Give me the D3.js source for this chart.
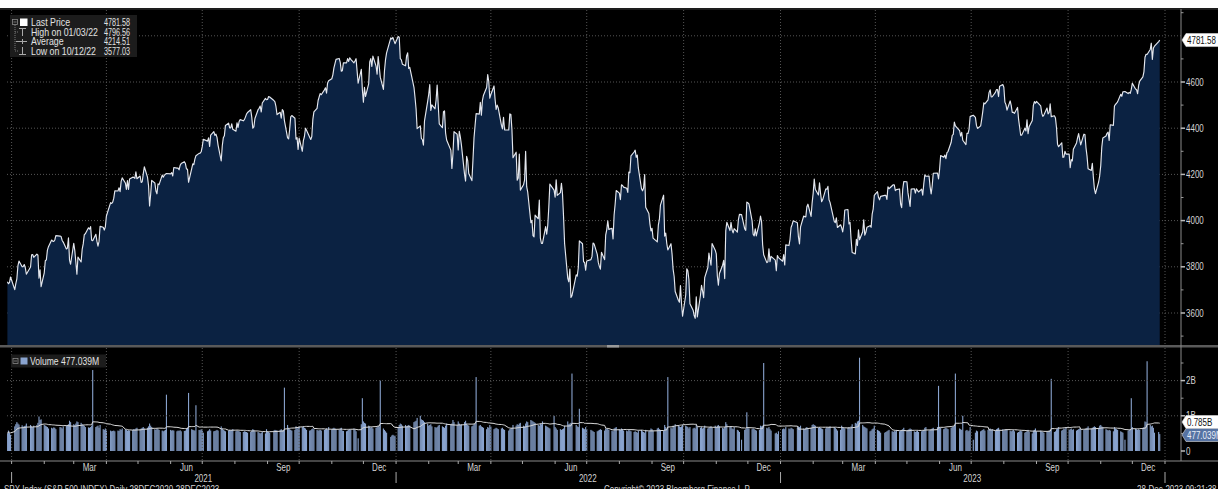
<!DOCTYPE html>
<html><head><meta charset="utf-8">
<script src="https://cdn.jsdelivr.net/npm/d3@7"></script>
<style>
html,body{margin:0;padding:0;background:#000;overflow:hidden;}
svg{display:block;}
text{font-family:"Liberation Sans",Arial,sans-serif;}
</style></head><body>
<svg id="c" width="1218" height="489"></svg>
<script>
// ---------------- DATA ----------------
// NYSE holidays inside the range (non-trading weekdays)
const holidays = ["2021-01-01","2021-01-18","2021-02-15","2021-04-02","2021-05-31","2021-07-05","2021-09-06","2021-11-25","2021-12-24",
"2022-01-17","2022-02-21","2022-04-15","2022-05-30","2022-06-20","2022-07-04","2022-09-05","2022-11-24","2022-12-26",
"2023-01-02","2023-01-16","2023-02-20","2023-04-07","2023-05-29","2023-06-19","2023-07-04","2023-09-04","2023-11-23","2023-12-25"];
const firstDay = "2020-12-28", lastDay = "2023-12-27";

// SPX daily close, one value per trading day
const priceClose = [
3735,3727,3732,3756,
3701,3727,3748,3804,3825,3800,3801,3810,3796,3768,3799,3852,3853,3841,3855,3850,3751,3787,3714,
3774,3826,3830,3872,3887,3916,3911,3910,3916,3935,3933,3931,3914,3907,3877,3881,3925,3829,3811,
3902,3870,3820,3768,3842,3821,3875,3899,3939,3943,3969,3963,3974,3915,3913,3941,3911,3889,3910,3975,3971,3959,3973,
4020,4078,4074,4080,4097,4129,4128,4142,4125,4170,4185,4163,4135,4173,4135,4180,4188,4187,4183,4211,4181,
4193,4165,4168,4202,4233,4188,4152,4063,4113,4174,4163,4128,4116,4159,4156,4197,4188,4196,4201,4204,
4202,4208,4193,4230,4227,4227,4220,4239,4247,4255,4247,4224,4222,4166,4225,4246,4242,4266,4281,4291,4292,4298,
4320,4352,4344,4358,4321,4370,4385,4369,4374,4360,4327,4258,4323,4359,4367,4412,4422,4401,4401,4419,4395,
4387,4423,4403,4429,4437,4432,4437,4448,4461,4468,4480,4448,4400,4406,4442,4480,4486,4496,4470,4509,4529,4523,
4524,4537,4535,4520,4514,4493,4459,4469,4443,4481,4474,4433,4358,4354,4396,4449,4455,4443,4353,4359,4308,
4357,4300,4346,4364,4400,4391,4361,4351,4364,4438,4471,4486,4520,4536,4550,4545,4566,4575,4552,4596,4605,
4614,4631,4661,4680,4698,4702,4685,4647,4649,4683,4683,4701,4689,4705,4698,4683,4691,4701,4595,4655,4567,
4513,4577,4538,4592,4687,4701,4667,4712,4669,4634,4710,4669,4621,4568,4649,4697,4726,4791,4786,4793,4779,4766,
4797,4794,4701,4696,4677,4670,4713,4726,4659,4663,4577,4533,4483,4398,4410,4356,4350,4327,4432,4516,
4547,4589,4477,4501,4484,4522,4587,4504,4419,4402,4471,4475,4380,4349,4305,4226,4289,4385,4374,
4306,4387,4363,4329,4201,4171,4278,4260,4204,4173,4262,4358,4412,4463,4461,4512,4456,4520,4543,4576,4632,4602,4530,
4546,4583,4525,4481,4500,4488,4413,4397,4447,4393,4392,4462,4459,4394,4272,4296,4175,4184,4288,4132,
4155,4175,4300,4147,4123,3991,4001,3935,3930,4024,4008,4089,3924,3901,3901,3974,3941,3979,4058,4158,4132,
4101,4177,4109,4121,4161,4116,4018,3901,3750,3735,3790,3667,3675,3765,3760,3796,3912,3900,3822,3819,3785,
3825,3831,3845,3903,3899,3854,3819,3802,3790,3863,3831,3937,3960,3999,3962,3967,3921,4024,4072,4130,
4119,4091,4155,4152,4145,4140,4122,4210,4207,4280,4297,4305,4274,4284,4228,4138,4129,4141,4199,4058,4031,3986,3955,
3967,3924,3908,3980,4006,4067,4110,3933,3946,3901,3873,3900,3856,3790,3758,3693,3655,3647,3719,3640,3586,
3678,3791,3783,3745,3640,3612,3589,3577,3670,3583,3678,3720,3695,3666,3753,3797,3859,3831,3807,3901,3872,
3856,3760,3720,3771,3807,3828,3749,3956,3993,3957,3992,3959,3947,3965,3950,4004,4027,4026,3964,3958,4080,
4077,4072,3999,3941,3934,3964,3934,3991,4020,3995,3896,3852,3818,3822,3878,3822,3845,3829,3783,3849,3840,
3824,3853,3808,3895,3892,3919,3970,3983,3999,3991,3929,3899,3973,4020,4017,4016,4060,4071,4018,4077,
4119,4180,4136,4111,4164,4118,4082,4090,4137,4136,4148,4090,4079,3997,3991,4012,3970,3982,3970,
3951,3981,4046,4048,3986,3992,3918,3862,3856,3919,3892,3960,3917,3952,4003,3937,3949,3971,3978,3971,4028,4051,4109,
4125,4101,4090,4105,4109,4109,4092,4146,4138,4151,4155,4155,4130,4134,4137,4072,4056,4135,4169,
4168,4120,4091,4061,4136,4138,4119,4138,4131,4124,4136,4110,4159,4198,4192,4193,4146,4115,4151,4205,4206,4180,
4221,4282,4274,4284,4268,4294,4299,4339,4369,4373,4426,4410,4389,4366,4382,4348,4329,4378,4377,4396,4450,
4456,4447,4412,4399,4410,4439,4472,4510,4505,4523,4555,4566,4535,4536,4555,4567,4567,4537,4582,4589,
4577,4513,4502,4478,4518,4499,4468,4469,4464,4490,4438,4404,4370,4370,4400,4388,4436,4376,4406,4433,4498,4515,4508,
4516,4497,4465,4451,4457,4487,4462,4467,4505,4450,4454,4444,4402,4330,4320,4337,4274,4275,4300,4288,
4288,4229,4264,4258,4309,4336,4358,4377,4350,4328,4374,4373,4315,4278,4224,4217,4248,4187,4137,4117,4167,4194,
4238,4318,4358,4366,4378,4383,4347,4415,4412,4496,4503,4508,4514,4547,4538,4557,4559,4550,4555,4551,4568,
4595,4570,4567,4549,4586,4604,4622,4644,4707,4720,4719,4741,4768,4698,4747,4755,4775,4781.58
];

// Daily volume, in hundredths of a billion shares (62 = 0.62B)
const volumeCentiB = [
50,58,52,46,
70,76,82,78,75,73,69,71,72,78,74,70,68,72,74,80,98,88,90,
74,72,70,68,64,66,64,67,66,62,68,67,64,70,72,74,76,86,82,
76,74,78,84,82,80,76,74,72,68,67,66,68,72,230,68,70,72,66,74,62,60,64,
58,58,56,57,58,56,58,57,62,60,64,62,60,58,59,58,60,62,61,64,66,
62,64,66,68,64,66,70,78,72,68,62,60,64,62,60,58,56,58,60,160,
60,58,59,58,56,58,57,59,56,57,58,64,66,165,62,60,59,58,130,60,59,62,
58,52,56,58,62,58,56,57,58,60,58,70,64,60,58,56,58,60,59,60,62,
56,58,57,56,54,54,56,55,54,52,54,58,62,60,56,54,52,50,52,54,50,62,
56,54,52,58,60,59,58,60,62,59,58,180,74,66,62,60,58,60,70,64,68,
70,68,70,66,64,60,58,59,62,64,62,60,58,59,60,58,60,62,64,61,68,
62,64,66,64,62,60,64,66,58,57,56,58,60,62,61,64,60,56,36,76,150,
84,80,78,72,70,66,68,64,66,68,72,70,200,64,60,56,52,40,44,46,44,42,
68,74,78,76,72,74,70,72,74,72,82,84,86,94,100,90,88,86,82,78,
72,74,76,70,68,66,68,72,74,70,68,66,72,78,76,78,88,82,74,
84,78,74,76,82,86,78,74,72,70,72,76,78,210,72,74,70,68,66,62,68,66,74,
68,62,64,66,64,62,64,66,62,60,58,62,64,66,74,72,76,74,78,80,
72,70,78,84,82,88,86,84,82,80,74,72,78,76,84,72,70,68,66,64,100,
68,64,60,62,60,62,64,72,84,76,78,80,220,74,70,68,120,66,64,62,68,
62,60,58,56,54,56,58,60,62,60,58,64,62,64,60,58,56,64,66,68,
62,60,64,62,58,58,56,60,58,56,54,56,54,52,58,60,56,54,52,60,56,58,64,
62,58,64,66,62,60,58,74,68,64,210,66,64,72,70,76,74,70,68,70,74,
72,70,68,64,68,64,66,64,74,68,66,68,64,66,72,64,66,68,70,66,72,
68,72,74,70,66,64,68,82,76,68,70,64,62,68,60,58,54,32,60,62,110,
68,64,62,64,62,60,58,60,72,70,72,250,66,64,68,62,58,50,52,48,56,
62,64,62,68,64,62,66,64,62,66,70,68,72,64,62,66,68,64,66,74,
76,74,72,66,68,66,64,62,64,68,66,68,70,68,66,62,58,60,72,
68,66,64,66,68,64,70,76,80,78,84,86,265,74,70,68,66,64,56,58,62,64,72,
60,58,56,52,52,54,56,58,60,56,54,58,56,60,56,58,60,62,66,
58,60,62,64,62,56,54,56,58,54,56,58,60,66,68,58,60,62,64,66,68,185,
68,66,62,64,66,64,62,66,68,70,72,220,64,62,60,100,58,60,56,58,68,
32,52,58,56,56,58,60,62,58,60,62,64,60,62,58,62,64,66,60,62,
58,60,62,60,58,56,58,60,56,52,54,56,58,56,52,54,56,60,54,50,58,60,64,
56,58,56,54,52,54,56,58,60,205,54,56,62,64,68,58,60,64,62,68,
60,62,64,60,62,58,60,62,64,62,60,62,64,66,70,64,66,68,70,68,66,72,
74,70,68,62,60,58,60,58,56,68,64,62,60,56,54,52,32,58,60,62,150,
68,64,62,60,62,60,66,68,84,82,255,74,70,72,66,52,54,48
];

const priceMajorTicks = [3600, 3800, 4000, 4200, 4400, 4600];
const priceMinorTicks = [3500, 3700, 3900, 4100, 4300, 4500, 4700, 4900];
const priceGrid = [3600, 3800, 4000, 4200, 4400, 4600, 4800];
const volumeMajorTicks = [0, 1, 2];
const volumeTickLabels = ["0", "1B", "2B"];
const volumeMinorTicks = [0.5, 1.5, 2.5];
const monthLabelNames = ["Mar", "Jun", "Sep", "Dec"];
const yearLabels = ["2021", "2022", "2023"];
const legendLabels = ["Last Price", "High on 01/03/22", "Average", "Low on 10/12/22"];
const legendValues = ["4781.58", "4796.56", "4214.51", "3577.03"];
const lastPriceLabel = "4781.58";
const volumeMaLabel = "0.785B";
const volumeLastLabel = "477.039M";
const volumeLegend = "Volume 477.039M";
const footerLeft = "SPX Index (S&P 500 INDEX)  Daily 28DEC2020-28DEC2023";
const footerMid = "Copyright\u00A9 2023 Bloomberg Finance L.P.";
const footerRight = "28-Dec-2023 09:21:38";

// ---------------- BUILD ----------------
const fmt = d3.timeFormat("%Y-%m-%d");
const parse = d3.timeParse("%Y-%m-%d");
const hol = new Set(holidays);
const dates = [];
for (let d = parse(firstDay); d <= parse(lastDay); d = d3.timeDay.offset(d, 1)) {
  const wd = d.getDay();
  if (wd === 0 || wd === 6 || hol.has(fmt(d))) continue;
  dates.push(d);
}
const prices = d3.range(Math.min(dates.length, priceClose.length)).map(i => ({date: dates[i], v: priceClose[i]}));
const vols = d3.range(Math.min(dates.length, volumeCentiB.length)).map(i => ({date: dates[i], v: volumeCentiB[i] / 100}));
const MA = 20;
const volMa = vols.map((d, i) => ({date: d.date, v: d3.mean(vols.slice(Math.max(0, i - MA + 1), i + 1), e => e.v)}));

const W = 1218, H = 489;
const svg = d3.select("#c");
const plotL = 7, plotR = 1165, axisX = 1181;
const mainTop = 10, mainBot = 345, volTop = 348, volBot = 461;

const x = d3.scaleTime().domain([new Date(2021, 0, 1), new Date(2024, 0, 1)]).range([11.6, 1165]);
const y = d3.scaleLinear().domain([3600, 4600]).range([313, 82]);
const yv = d3.scaleLinear().domain([0, 2]).range([451, 380.6]);

// condensed text helper
function T(g, px, py, str, o = {}) {
  const s = o.sx || 0.8;
  return g.append("text")
    .attr("transform", `translate(${px},${py}) scale(${s},1)`)
    .attr("dy", o.dy == null ? "0.35em" : o.dy)
    .attr("text-anchor", o.anchor || "start")
    .attr("font-size", o.size || 10)
    .attr("fill", o.fill || "#d4d4d4")
    .text(str);
}

// backgrounds
svg.append("rect").attr("x", 0).attr("y", 0).attr("width", W).attr("height", H).attr("fill", "#000");
svg.append("rect").attr("x", 0).attr("y", 0).attr("width", W).attr("height", 8).attr("fill", "#fff");
svg.append("line").attr("x1", 0).attr("x2", W).attr("y1", 9).attr("y2", 9).attr("stroke", "#3a3a3a");

const defs = svg.append("defs");
defs.append("clipPath").attr("id", "cm").append("rect").attr("x", plotL).attr("y", mainTop).attr("width", plotR - plotL).attr("height", mainBot - mainTop);
defs.append("clipPath").attr("id", "cv").append("rect").attr("x", plotL).attr("y", volTop).attr("width", plotR - plotL).attr("height", volBot - volTop - 1);

const quarters = d3.timeMonth.every(3).range(new Date(2021, 0, 1), new Date(2024, 0, 2));

// price area
const gm = svg.append("g").attr("clip-path", "url(#cm)");
gm.append("path").datum(prices)
  .attr("d", d3.area().x(d => x(d.date)).y0(mainBot).y1(d => y(d.v)))
  .attr("fill", "#0b2242");

// gridlines (over the fill)
const grid = svg.append("g").attr("stroke", "#555").attr("stroke-dasharray", "1 2").attr("stroke-width", 1);
quarters.forEach(q => {
  grid.append("line").attr("x1", x(q)).attr("x2", x(q)).attr("y1", mainTop).attr("y2", mainBot);
});
priceGrid.forEach(t => grid.append("line").attr("x1", plotL).attr("x2", axisX).attr("y1", y(t)).attr("y2", y(t)));

// price line
gm.append("path").datum(prices)
  .attr("d", d3.line().x(d => x(d.date)).y(d => y(d.v)))
  .attr("fill", "none").attr("stroke", "#e4e7ee").attr("stroke-width", 1.15).attr("stroke-linejoin", "round");
gm.raise();

// volume bars
const gv = svg.append("g").attr("clip-path", "url(#cv)");
gv.selectAll("rect").data(vols).join("rect")
  .attr("x", d => x(d.date) - 0.55).attr("width", 1.1)
  .attr("y", d => yv(d.v)).attr("height", d => yv(0) - yv(d.v))
  .attr("fill", "#89a3ce");
const gridV = svg.append("g").attr("stroke", "#555").attr("stroke-dasharray", "1 2").attr("stroke-width", 1);
quarters.forEach(q => gridV.append("line").attr("x1", x(q)).attr("x2", x(q)).attr("y1", volTop).attr("y2", volBot));
[1, 2].forEach(t => gridV.append("line").attr("x1", plotL).attr("x2", axisX).attr("y1", yv(t)).attr("y2", yv(t)));
svg.append("path").datum(volMa).attr("clip-path", "url(#cv)")
  .attr("d", d3.line().x(d => x(d.date)).y(d => yv(d.v)))
  .attr("fill", "none").attr("stroke", "#dcdcdc").attr("stroke-width", 1);

// panel separator and axes
svg.append("rect").attr("x", 0).attr("y", 345).attr("width", W).attr("height", 2.5).attr("fill", "#5a5a5a");
svg.append("rect").attr("x", 607).attr("y", 345).attr("width", 12).attr("height", 2.5).attr("fill", "#9a9a9a");
svg.append("line").attr("x1", axisX).attr("x2", axisX).attr("y1", 9).attr("y2", volBot).attr("stroke", "#8a8a8a");
svg.append("line").attr("x1", 0).attr("x2", W).attr("y1", volBot).attr("y2", volBot).attr("stroke", "#8a8a8a").attr("stroke-width", 1.2);

const ax = svg.append("g");
priceMajorTicks.forEach(t => {
  ax.append("line").attr("x1", axisX).attr("x2", axisX + 4).attr("y1", y(t)).attr("y2", y(t)).attr("stroke", "#bbb").attr("stroke-width", 1.5);
  T(ax, axisX + 5, y(t), t);
});
priceMinorTicks.forEach(t => ax.append("line").attr("x1", axisX).attr("x2", axisX + 2.5).attr("y1", y(t)).attr("y2", y(t)).attr("stroke", "#999"));
volumeMajorTicks.forEach((t, i) => {
  ax.append("line").attr("x1", axisX).attr("x2", axisX + 4).attr("y1", yv(t)).attr("y2", yv(t)).attr("stroke", "#bbb").attr("stroke-width", 1.5);
  T(ax, axisX + 5, yv(t), volumeTickLabels[i]);
});
volumeMinorTicks.forEach(t => ax.append("line").attr("x1", axisX).attr("x2", axisX + 2.5).attr("y1", yv(t)).attr("y2", yv(t)).attr("stroke", "#999"));

// value tags on the right axis
function tag(yc, label, bg, fg) {
  const g = svg.append("g");
  g.append("path").attr("d", `M${axisX + 1},${yc} L${axisX + 5},${yc - 6.5} L${W + 2},${yc - 6.5} L${W + 2},${yc + 6.5} L${axisX + 5},${yc + 6.5} Z`)
    .attr("fill", bg).attr("stroke", "#ddd").attr("stroke-width", 0.6);
  T(g, axisX + 6, yc, label, {fill: fg});
}
tag(y(prices[prices.length - 1].v), lastPriceLabel, "#ffffff", "#111");
tag(422, volumeMaLabel, "#ffffff", "#111");
tag(435, volumeLastLabel, "#5673a3", "#e8eef8");

// x axis: month ticks, labels, years
const months = d3.timeMonth.range(new Date(2021, 0, 1), new Date(2024, 0, 2));
months.forEach(m => {
  svg.append("line").attr("x1", x(m)).attr("x2", x(m)).attr("y1", volBot).attr("y2", volBot + 3)
    .attr("stroke", "#aaa").attr("stroke-width", 1);
  const mi = [2, 5, 8, 11].indexOf(m.getMonth());
  if (mi >= 0) T(svg, x(d3.timeDay.offset(m, 15)), 467.5, monthLabelNames[mi], {anchor: "middle"});
});
[2021, 2022, 2023, 2024].forEach(yr => {
  svg.append("line").attr("x1", x(new Date(yr, 0, 1))).attr("x2", x(new Date(yr, 0, 1))).attr("y1", 472).attr("y2", 483).attr("stroke", "#aaa");
});
yearLabels.forEach(yl => T(svg, x(new Date(+yl, 6, 2)), 478.5, yl, {anchor: "middle"}));

// footer
T(svg, 4, 493, footerLeft, {dy: 0});
T(svg, 604, 493, footerMid, {dy: 0});
T(svg, 1137, 493, footerRight, {dy: 0});

// main legend
const lg = svg.append("g");
lg.append("rect").attr("x", 10).attr("y", 15).attr("width", 127).attr("height", 42).attr("fill", "#1c1c1c");
const rowsY = [22.5, 32, 41.5, 51];
lg.append("rect").attr("x", 12.5).attr("y", 19.5).attr("width", 5).attr("height", 5).attr("fill", "none").attr("stroke", "#888").attr("stroke-width", 0.8);
lg.append("line").attr("x1", 13.5).attr("x2", 16.5).attr("y1", 22).attr("y2", 22).attr("stroke", "#888").attr("stroke-width", 0.8);
lg.append("line").attr("x1", 15).attr("x2", 15).attr("y1", 25).attr("y2", 51).attr("stroke", "#777").attr("stroke-dasharray", "1 1");
lg.append("rect").attr("x", 20).attr("y", 18.5).attr("width", 7.5).attr("height", 7.5).attr("fill", "#fff");
lg.append("path").attr("d", "M19,28.5 H26 M22.5,28.5 V36").attr("stroke", "#aaa").attr("fill", "none");
lg.append("path").attr("d", "M16,41.5 H27 M22.5,39 V44").attr("stroke", "#aaa").attr("fill", "none");
lg.append("path").attr("d", "M22.5,47 V54.5 M19,54.5 H26").attr("stroke", "#aaa").attr("fill", "none");
[32, 51].forEach(yy => lg.append("line").attr("x1", 15).attr("x2", 18.5).attr("y1", yy).attr("y2", yy).attr("stroke", "#777").attr("stroke-dasharray", "1 1"));
legendLabels.forEach((l, i) => {
  T(lg, 31, rowsY[i], l, {sx: 0.88, fill: "#e2e2e2"});
  T(lg, 130, rowsY[i], legendValues[i], {sx: 0.72, anchor: "end", fill: "#e2e2e2"});
});

// volume legend
const vl = svg.append("g");
vl.append("rect").attr("x", 11).attr("y", 354.5).attr("width", 95).attr("height", 13).attr("fill", "#1c1c1c");
vl.append("rect").attr("x", 13).attr("y", 358.5).attr("width", 5).attr("height", 5).attr("fill", "none").attr("stroke", "#888").attr("stroke-width", 0.8);
vl.append("line").attr("x1", 14).attr("x2", 17).attr("y1", 361).attr("y2", 361).attr("stroke", "#888").attr("stroke-width", 0.8);
vl.append("rect").attr("x", 20.5).attr("y", 357.5).attr("width", 7).attr("height", 7).attr("fill", "#8aa4cf");
T(vl, 30, 361, volumeLegend, {sx: 0.86, fill: "#e2e2e2"});
</script>
</body></html>
